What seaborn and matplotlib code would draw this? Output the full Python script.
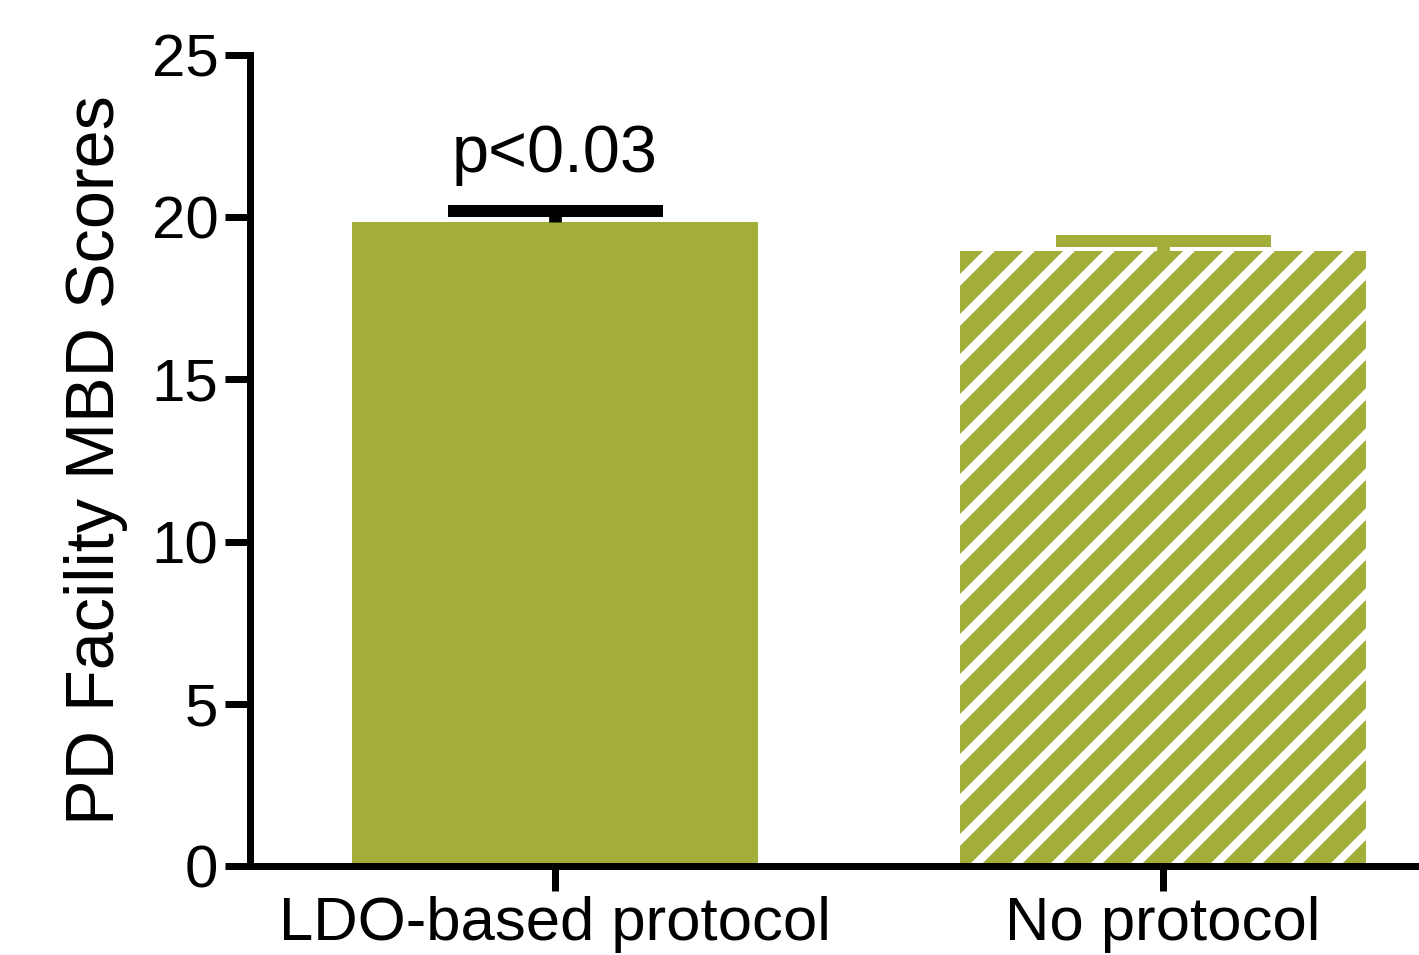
import matplotlib
matplotlib.use("Agg")
import matplotlib.pyplot as plt
import seaborn as sns

# values
categories = ["LDO-based protocol", "No protocol"]
means = [19.85, 18.95]
errors = [0.33, 0.31]          # upper error (SEM)
y_ticks = [0, 5, 10, 15, 20, 25]
p_label = "p<0.03"

olive = "#A2AD3A"
err_colors = ["black", olive]

DPI = 240
sns.set_style("ticks")
plt.rcParams["font.family"] = ["Liberation Sans", "DejaVu Sans"]
plt.rcParams["hatch.linewidth"] = 2.5
plt.rcParams["text.color"] = "black"
plt.rcParams["xtick.color"] = "black"
plt.rcParams["ytick.color"] = "black"
plt.rcParams["axes.labelcolor"] = "black"

fig = plt.figure(figsize=(1419 / DPI, 955 / DPI), dpi=DPI, facecolor="white")
ax = fig.add_axes([250 / 1419, 89 / 955, 1169 / 1419, 811 / 955])

sns.barplot(x=categories, y=means, color=olive, saturation=1, width=0.668,
            errorbar=None, linewidth=0, ax=ax)

# second bar: white diagonal stripes
bar2 = ax.patches[1]
bar2.set_hatch("//")
bar2.set_edgecolor("white")
bar2.set_linewidth(0)

for i, (m, e) in enumerate(zip(means, errors)):
    _, caps, _ = ax.errorbar(i, m, yerr=[[0], [e]], fmt="none",
                             ecolor=err_colors[i], elinewidth=3.8,
                             capsize=32.25, capthick=3.6, zorder=5)
    # keep only the upper cap
    for cap in caps:
        if abs(cap.get_ydata()[0] - m) < 1e-9:
            cap.set_visible(False)

ax.text(0, means[0] + errors[0] + 1.2, p_label, ha="center", va="baseline",
        fontsize=20, color="black")

ax.set_xlim(-0.5016, 1.421)
ax.set_ylim(0, 25)
ax.set_yticks(y_ticks)
ax.set_yticklabels([str(t) for t in y_ticks])

sns.despine(ax=ax)
for side in ["left", "bottom"]:
    ax.spines[side].set_linewidth(2.1)
    ax.spines[side].set_color("black")
ax.tick_params(axis="both", width=2.1, length=7.5, color="black",
               labelcolor="black")
ax.tick_params(axis="y", labelsize=18, pad=2)
ax.tick_params(axis="x", labelsize=18.5, pad=1.5)

ax.set_xlabel("")
ax.set_ylabel("PD Facility MBD Scores", fontsize=20.5, color="black")
ax.yaxis.set_label_coords(-0.104, 0.5)

fig.savefig("out.png", dpi=DPI, facecolor="white")
